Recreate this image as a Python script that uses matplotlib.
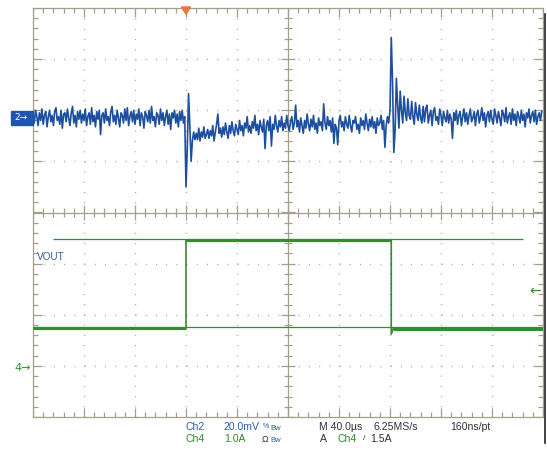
import numpy as np
import matplotlib
matplotlib.use("Agg")
import matplotlib.pyplot as plt
from matplotlib.patches import Rectangle, Polygon
from matplotlib.collections import LineCollection
import matplotlib.transforms as mtransforms

plt.rcParams['font.family'] = ['Liberation Sans', 'DejaVu Sans']

# ---------------- data ----------------
# Ch2: output voltage ripple (mV), one sample every 1 us starting at 0 us
ch2_dt_us = 1.0
ch2_before_mv = [
    1.5, -2.0, 3.0, 0.5, -3.0, 2.0, -1.0, 3.5, -2.5, 1.0,
    2.5, -3.5, 0.5, 3.0, -1.5, 1.0, -3.0, 2.5, 4.0, -1.0,
    0.5, -2.5, 3.0, -4.0, 1.5, 2.0, -1.5, 3.5, 0.0, -3.0,
    2.0, 4.5, -2.0, 1.0, -3.5, 2.5, -0.5, 3.0, -2.0, 1.5,
    -1.0, 3.5, -3.0, 0.5, 2.0, -2.5, 4.0, -1.5, 1.0, -3.5,
    2.5, -0.5, 3.0, -6.5, 1.0, 2.0, -2.0, 3.5, -1.0, 0.5,
    -3.0, 2.5, 4.5, -1.5, 1.0, -2.5, 3.0, 0.0, -3.5, 2.0,
    1.0, -2.0, 3.5, -1.0, 4.0, -3.0, 0.5, 2.5, -1.5, 3.0,
    -2.5, 1.5, -0.5, 3.5, -3.0, 2.0, 0.5, -4.0, 2.5, 1.0,
    -1.5, 3.0, -2.0, 4.5, -1.0, 0.5, -3.5, 2.0, 1.0, -2.5,
    3.5, -1.0, 2.0, -3.0, 0.5, 3.0, -2.5, 1.5, -4.5, 2.0,
    0.0, 3.0, -2.0, 1.5, -3.5, 2.5, -1.0, 3.0, -2.0, 0.5,
]
ch2_step_up_mv = [-27.0, -12.0, 9.5, -3.0, -17.0, -9.0, -5.5, -8.5]
ch2_high_load_mv = [
    -6.0, -8.5, -4.0, -9.0, -5.5, -7.5, -3.5, -8.0, -6.5, -4.5,
    -8.0, -5.0, -7.0, -3.0, -9.0, -5.5, -2.5, 1.5, -6.0, -4.0,
    -7.5, -3.5, -6.5, -2.0, -5.5, -8.0, -3.0, -6.0, -1.5, -5.0,
    -7.0, -2.5, -4.5, -6.5, -1.0, -5.0, -3.0, -7.0, -2.0, -4.0,
    0.5, -5.5, -3.0, -6.0, -1.5, -4.0, 1.0, -5.0, -2.5, -6.5,
    -1.0, -3.5, -5.5, -0.5, -12.0, -3.0, -1.0, -5.0, 0.5, -11.0,
    -2.5, -4.5, 1.0, -3.0, -5.5, -1.0, -3.5, 0.5, -5.0, -2.0,
    -4.0, 1.0, -3.0, -5.0, -1.5, 0.5, -4.5, -2.0, 5.0, -3.5,
    -1.0, -5.5, 0.0, -3.0, -6.0, -1.0, -4.0, 1.5, -2.5, -5.0,
    -0.5, -3.5, 1.0, -4.5, -2.0, -6.0, 0.0, -3.0, -1.5, -5.0,
    5.5, -2.0, -4.5, 0.5, -3.0, -1.0, -5.5, 0.0, -10.0, -2.5,
    -4.0, -10.5, -1.0, 1.0, -3.5, -1.5, -5.0, 0.5, -2.5, -4.0,
    1.0, -3.0, -5.5, -1.0, -2.0, 0.5, -4.5, -2.5, -6.0, 0.0,
    -3.0, -1.0, -4.5, 1.5, -2.0, -5.0, -0.5, -3.5, 0.5, -4.0,
    -1.5, -6.0, 0.0, -3.0, -2.0, 1.0, -4.5, -1.0, -11.5, -3.0,
    0.5, -2.0,
]
ch2_step_down_mv = [
    3.0, 31.5, 14.0, -13.5, -5.0, 15.5, 5.0, -4.0, 10.5, 3.0,
    -2.0, 8.5, 2.0, -1.0, 7.5, 1.0, -0.5, 6.5, 0.5, -2.5,
    6.0, 1.5, -1.0, 5.0, 0.0, -2.0, 4.5, -1.5, 3.5, 5.0,
    -2.0, 1.0, 3.0, -3.0, 2.5, 4.0, -1.0, 0.5, -2.5, 3.5,
    1.0, -3.0, 2.5, 0.0, -1.5, 3.0, -2.0, 1.5, -0.5, -8.0,
    2.0, -1.0, 3.0, -2.5, 1.0, 2.5, -3.0, 0.5, 3.5, -1.5,
]
ch2_after_mv = [
    2.0, -2.5, 1.0, 3.5, -1.5, 0.0, 2.5, -3.0, 1.5, 3.0,
    -2.0, 0.5, 4.0, -1.0, 2.0, -3.5, 1.0, 2.5, -1.5, 3.0,
    -0.5, -2.5, 3.5, 1.0, -2.0, 2.5, 0.0, -3.0, 3.0, 1.5,
    -1.5, 4.0, -2.0, 0.5, 2.0, -2.5, 3.5, -1.0, 1.5, -3.0,
    2.5, 0.5, -2.0, 3.0, -1.0, 1.5, -3.5, 2.0, 0.0, 3.5,
    -2.0, 1.0, 2.5, -1.5, 3.0, -2.5, 0.5, 2.0, -1.0, 2.5,
]

# Ch4: load current step (A)
ch4_t_us = [0, 120, 120, 281, 281, 282.5, 400]
ch4_a = [0.78, 0.78, 2.50, 2.50, 0.66, 0.77, 0.77]

# cursor levels (A) and trigger
cursor_hi_a = 2.53
cursor_lo_a = 0.80
trigger_a = 1.5
trigger_t_us = 120.0

# scope settings
time_per_div = 40.0   # us/div
ch2_per_div = 20.0    # mV/div
ch4_per_div = 1.0     # A/div
ch2_pos = 1.85        # div
ch4_pos = -3.04       # div

# ---------------- figure ----------------
W, H = 547, 450
fig = plt.figure(figsize=(W / 100, H / 100), dpi=100)
fig.patch.set_facecolor('white')
ax = fig.add_axes([33 / W, 1 - 417 / H, 510 / W, 409 / H])
ax.set_xlim(0, 10)
ax.set_ylim(-4, 4)
ax.set_xticks([])
ax.set_yticks([])
gc = '#a39f8c'
gdot = '#b2ae9e'
for s in ax.spines.values():
    s.set_color(gc)
    s.set_linewidth(0.9)

# dotted graticule
for xv in range(1, 10):
    if xv != 5:
        ax.axvline(xv, color=gdot, lw=1.0, ls=(0, (0.8, 6.544)), zorder=1)
for yv in range(-3, 4):
    if yv != 0:
        ax.axhline(yv, color=gdot, lw=1.0, ls=(0, (0.8, 6.544)), zorder=1)
ax.axvline(5, color=gc, lw=0.9, zorder=1)
ax.axhline(0, color=gc, lw=0.9, zorder=1)

segs = []
for k, xv in enumerate(np.arange(0, 10.001, 0.2)):
    major = (k % 5 == 0)
    L = 0.17 if major else 0.09
    segs.append([(xv, 4), (xv, 4 - L)])
    segs.append([(xv, -4), (xv, -4 + L)])
    Lc = 0.14 if major else 0.08
    segs.append([(xv, -Lc), (xv, Lc)])
for k, yv in enumerate(np.arange(-4, 4.001, 0.2)):
    major = (k % 5 == 0)
    L = 0.17 if major else 0.09
    segs.append([(0, yv), (L, yv)])
    segs.append([(10, yv), (10 - L, yv)])
    Lc = 0.14 if major else 0.08
    segs.append([(5 - Lc, yv), (5 + Lc, yv)])
ax.add_collection(LineCollection(segs, colors=gc, linewidths=0.9, zorder=1))

green = '#2f8f2f'
blue = '#1d4f9e'

# cursors
ax.hlines(ch4_pos + cursor_hi_a / ch4_per_div, 0.39, 9.61, color=green, lw=0.9, zorder=2)
ax.hlines(ch4_pos + cursor_lo_a / ch4_per_div, 0, 10, color=green, lw=0.9, zorder=2)

# traces
ch2_mv = np.array(ch2_before_mv + ch2_step_up_mv + ch2_high_load_mv
                  + ch2_step_down_mv + ch2_after_mv)
t2 = np.arange(len(ch2_mv)) * ch2_dt_us
ax.plot(t2 / time_per_div, ch2_pos + ch2_mv / ch2_per_div,
        color=blue, lw=1.2, zorder=3)
t4 = np.array(ch4_t_us) / time_per_div
y4 = ch4_pos + np.array(ch4_a) / ch4_per_div
ax.plot(t4, y4, color=green, lw=1.2, zorder=3)
for i in (0, 2, 5):
    ax.plot(t4[i:i + 2], y4[i:i + 2], color=green, lw=2.2, zorder=3,
            solid_capstyle='butt')

# trigger position marker (top)
tx = trigger_t_us / time_per_div
ax.add_patch(Polygon([(tx - 0.09, 4.02), (tx + 0.09, 4.02), (tx, 3.88)],
                     closed=True, color='#f07438', clip_on=False, zorder=5))
# trigger level arrow (right)
ax.text(9.84, ch4_pos + trigger_a / ch4_per_div, '\u2190', color=green,
        fontsize=10, ha='center', va='center', zorder=5, family='DejaVu Sans')

# channel markers (left)
bt = mtransforms.blended_transform_factory(ax.transAxes, ax.transData)
ax.add_patch(Rectangle((-22 / 510, ch2_pos - 0.13), 22 / 510, 0.26, transform=bt,
                       color='#1d55b0', clip_on=False, zorder=5))
ax.text(-12 / 510, ch2_pos, '2\u2192', transform=bt, color='white', fontsize=6.5,
        ha='center', va='center', clip_on=False, zorder=6, family='DejaVu Sans')
ax.text(-10 / 510, ch4_pos, '4\u2192', transform=bt, color=green, fontsize=8,
        ha='center', va='center', clip_on=False, zorder=6, family='DejaVu Sans')

ax.text(0.08, -0.88, 'VOUT', color='#3c5d8c', fontsize=7.2, ha='left', va='center')

# right edge dark line
fig.add_artist(plt.Line2D([545 / W, 545 / W], [1 - 443 / H, 1 - 14 / H],
                          color='#222222', lw=1.2))

# bottom readout
cb = '#2a5ea8'
dk = '#333333'
def ft(xpx, ypx, s, c, fs=7.6):
    fig.text(xpx / W, 1 - ypx / H, s, color=c, fontsize=fs, ha='left', va='center')

ft(186, 427, 'Ch2', cb)
ft(224, 427, '20.0mV', cb)
ft(263, 427, '%', cb, 5)
ft(270, 428, 'Bw', cb, 5.5)
ft(319, 427, 'M 40.0\u00b5s', dk)
ft(373, 427, '6.25MS/s', dk)
ft(450, 427, '160ns/pt', dk)
ft(186, 439, 'Ch4', green)
ft(224, 439, '1.0A', green)
ft(262, 439, '\u03a9', dk, 6.5)
ft(270, 440, 'Bw', cb, 5.5)
ft(320, 439, 'A', dk)
ft(337, 439, 'Ch4', green)
ft(363, 439, '/', dk, 6)
ft(370, 439, '1.5A', dk)

fig.savefig('out.png', dpi=100, facecolor='white')
